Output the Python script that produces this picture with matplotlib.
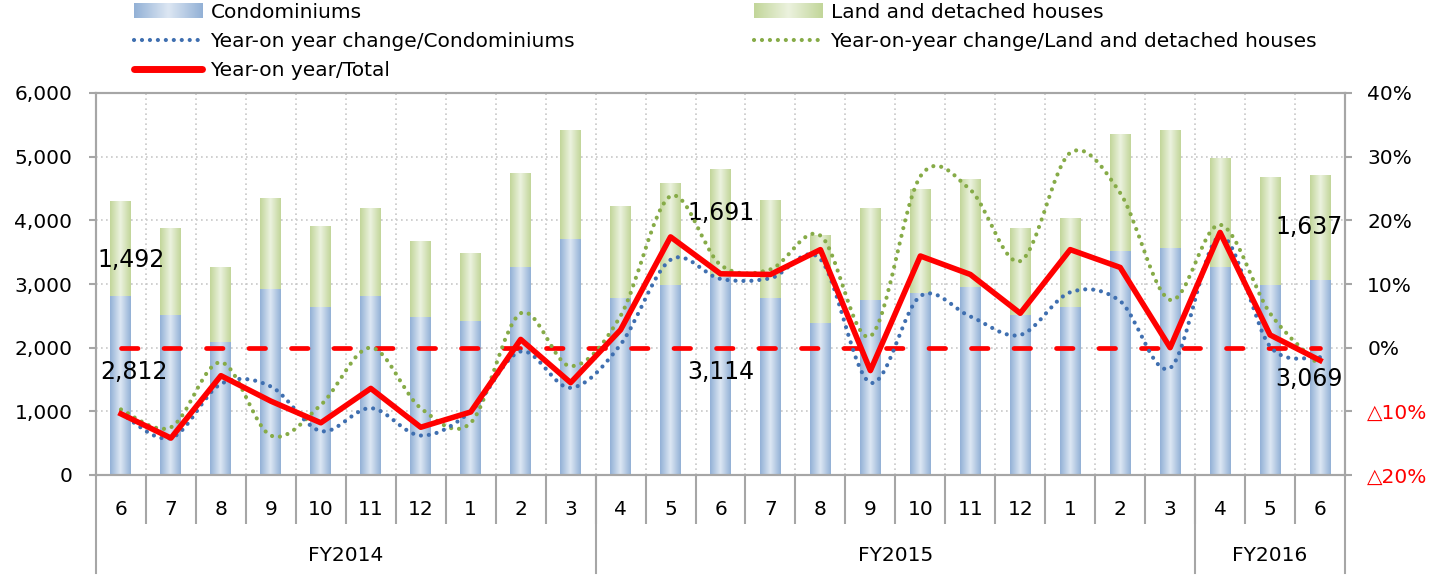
import numpy as np
import matplotlib
matplotlib.use("Agg")
import matplotlib.pyplot as plt
from matplotlib.colors import LinearSegmentedColormap
from matplotlib.lines import Line2D
from matplotlib.patches import Patch, PathPatch
from matplotlib.path import Path
from matplotlib.image import BboxImage
from matplotlib.legend_handler import HandlerBase
import matplotlib.transforms as mtransforms

# --- data ---
months = ["6", "7", "8", "9", "10", "11", "12", "1", "2", "3",
          "4", "5", "6", "7", "8", "9", "10", "11", "12", "1", "2", "3",
          "4", "5", "6"]
fiscal_years = ["FY2014", "FY2015", "FY2016"]
fy_counts = [10, 12, 3]

condo = [2812, 2513, 2089, 2921, 2639, 2811, 2482, 2419, 3267, 3707,
         2780, 2984, 3114, 2780, 2387, 2749, 2858, 2953, 2513, 2639, 3518, 3565,
         3267, 2984, 3069]
land = [1492, 1366, 1178, 1414, 1272, 1367, 1193, 1068, 1476, 1711,
        1445, 1602, 1691, 1539, 1382, 1444, 1618, 1696, 1366, 1397, 1822, 1838,
        1712, 1696, 1637]

# year-on-year change (%)
yoy_condo = [-10.3, -14.2, -5.7, -6.1, -13.1, -9.5, -13.8, -10.0, -0.6, -6.3,
             0.5, 13.8, 10.8, 10.9, 13.9, -5.5, 8.1, 4.9, 2.0, 8.7, 7.3, -3.2,
             17.5, 0.2, -1.5]
yoy_land = [-9.7, -12.5, -2.3, -13.8, -9.0, 0.0, -9.5, -11.8, 5.4, -2.9,
            5.0, 23.8, 13.0, 12.3, 17.6, 1.8, 26.9, 24.8, 13.6, 30.6, 24.3, 7.5,
            19.3, 5.4, -2.9]
yoy_total = [-10.4, -14.2, -4.4, -8.4, -11.8, -6.4, -12.5, -10.1, 1.3, -5.5,
             2.8, 17.4, 11.6, 11.5, 15.4, -3.6, 14.4, 11.5, 5.4, 15.4, 12.6, 0.0,
             18.1, 2.0, -2.0]

left_ticks = [0, 1000, 2000, 3000, 4000, 5000, 6000]
right_ticks = [-20, -10, 0, 10, 20, 30, 40]
right_labels = ["△20%", "△10%", "0%", "10%", "20%", "30%", "40%"]

# bars that carry value labels, with label offsets in points
label_idx = [0, 12, 24]
land_offsets = [(7, -8), (0, 7), (-8, 0)]
condo_offsets = [(9, 10), (0, 3), (-8, -1)]

BLUE_EDGE, BLUE_MID = "#93b1d6", "#dde7f3"
GREEN_EDGE, GREEN_MID = "#c2d69a", "#ecf2df"
BLUE_LINE, GREEN_LINE, RED = "#3f6fb0", "#86ab47", "#ff0000"
GRID = "#c8c8c8"
SPINE = "#a6a6a6"

plt.rcParams["font.family"] = ["DejaVu Sans"]
FS = 14.5

fig = plt.figure(figsize=(14.38, 5.76), dpi=100)
ax = fig.add_axes([96 / 1438, 1 - 475 / 576, (1345 - 96) / 1438, (475 - 93) / 576])

x = np.arange(len(months))
bars_c = ax.bar(x, condo, width=0.42, color=BLUE_MID, zorder=2)
bars_l = ax.bar(x, land, width=0.42, bottom=condo, color=GREEN_MID, zorder=2)

GRAD = np.linspace(0, 1, 64).reshape(1, -1)


def grad_cmap(edge, mid):
    return LinearSegmentedColormap.from_list("g", [edge, mid, edge])


def shade(bars, edge, mid):
    cmap = grad_cmap(edge, mid)
    for b in bars:
        x0, y0 = b.get_x(), b.get_y()
        ax.imshow(GRAD, cmap=cmap, aspect="auto", zorder=2.1,
                  extent=[x0, x0 + b.get_width(), y0, y0 + b.get_height()])


shade(bars_c, BLUE_EDGE, BLUE_MID)
shade(bars_l, GREEN_EDGE, GREEN_MID)

ax.set_xlim(-0.5, len(months) - 0.5)
ax.set_ylim(0, 6000)
ax.set_yticks(left_ticks)
ax.set_yticklabels([f"{v:,}" for v in left_ticks], fontsize=FS)
ax.tick_params(axis="y", length=5, width=1.5, color=SPINE, pad=12)

# month labels + separators
ax.set_xticks(x)
ax.set_xticklabels(months, fontsize=FS)
ax.tick_params(axis="x", which="major", length=0, pad=18)
ax.set_xticks(np.arange(1, len(months)) - 0.5, minor=True)
ax.tick_params(axis="x", which="minor", length=35, width=1.5, color=SPINE, direction="out")

ax.grid(axis="y", which="major", color=GRID, linestyle=(0, (1, 2)), linewidth=1.2, zorder=0)
ax.grid(axis="x", which="minor", color=GRID, linestyle=(0, (1, 2)), linewidth=1.2, zorder=0)
ax.set_axisbelow(True)

for s in ax.spines.values():
    s.set_color(SPINE)
    s.set_linewidth(1.5)

# fiscal year groups
trans = mtransforms.blended_transform_factory(ax.transData, ax.transAxes)
bounds = np.concatenate([[0], np.cumsum(fy_counts)]) - 0.5
for b in bounds:
    ax.add_line(Line2D([b, b], [0, -0.257], transform=trans, color=SPINE,
                       linewidth=1.5, clip_on=False))
for name, a, b in zip(fiscal_years, bounds[:-1], bounds[1:]):
    ax.text((a + b) / 2, -0.212, name, transform=trans, ha="center", va="center", fontsize=FS)

# value labels
for i, (dl, dc) in zip(label_idx, zip(land_offsets, condo_offsets)):
    ax.annotate(f"{land[i]:,}", xy=(i, condo[i] + land[i] / 2), xytext=dl,
                textcoords="offset points", ha="center", va="center", fontsize=17, zorder=6)
    ax.annotate(f"{condo[i]:,}", xy=(i, condo[i] / 2), xytext=dc,
                textcoords="offset points", ha="center", va="center", fontsize=17, zorder=6)

# right axis
ax2 = ax.twinx()
ax2.set_ylim(-20, 40)
ax2.set_yticks(right_ticks)
ax2.set_yticklabels(right_labels, fontsize=FS)
for t, v in zip(ax2.get_yticklabels(), right_ticks):
    t.set_color(RED if v < 0 else "black")
ax2.tick_params(axis="y", length=5, width=1.5, color=SPINE, pad=11)
for s in ax2.spines.values():
    s.set_color(SPINE)
    s.set_linewidth(1.5)


def smooth_path(xs, ys):
    pts = np.column_stack([xs, ys]).astype(float)
    verts = [pts[0]]
    codes = [Path.MOVETO]
    n = len(pts)
    for i in range(n - 1):
        p0 = pts[max(i - 1, 0)]
        p1, p2 = pts[i], pts[i + 1]
        p3 = pts[min(i + 2, n - 1)]
        verts += [p1 + (p2 - p0) / 6, p2 - (p3 - p1) / 6, p2]
        codes += [Path.CURVE4] * 3
    return Path(verts, codes)


DOTS = (0, (0.01, 1.9))
ax2.hlines(0, x[0], x[-1], colors=RED, linewidth=3.4,
           linestyles=[(0, (3.5, 5.5))], capstyle="round", zorder=3)
ax2.add_patch(PathPatch(smooth_path(x, yoy_land), fill=False, edgecolor=GREEN_LINE,
                        linestyle=DOTS, linewidth=3.0, capstyle="round", zorder=4))
ax2.add_patch(PathPatch(smooth_path(x, yoy_condo), fill=False, edgecolor=BLUE_LINE,
                        linestyle=DOTS, linewidth=3.0, capstyle="round", zorder=4))
ax2.plot(x, yoy_total, color=RED, linewidth=4, zorder=5)


# legend handle with the same horizontal gradient as the bars
class GradHandler(HandlerBase):
    def create_artists(self, legend, orig_handle, xdescent, ydescent,
                       width, height, fontsize, trans):
        bb = mtransforms.Bbox.from_bounds(-xdescent, -ydescent, width, height)
        im = BboxImage(mtransforms.TransformedBbox(bb, trans),
                       cmap=grad_cmap(*orig_handle.grad), interpolation="bilinear")
        im.set_data(GRAD)
        return [im]


h_condo = Patch(facecolor=BLUE_MID)
h_condo.grad = (BLUE_EDGE, BLUE_MID)
h_land = Patch(facecolor=GREEN_MID)
h_land.grad = (GREEN_EDGE, GREEN_MID)
h_bdot = Line2D([], [], color=BLUE_LINE, linewidth=3.0, linestyle=DOTS,
                dash_capstyle="round")
h_gdot = Line2D([], [], color=GREEN_LINE, linewidth=3.0, linestyle=DOTS,
                dash_capstyle="round")
h_red = Line2D([], [], color=RED, linewidth=5, solid_capstyle="round")

leg_kw = dict(loc="upper left", frameon=False, borderpad=0, borderaxespad=0,
              handlelength=3.4, handletextpad=0.4, labelspacing=0.5, fontsize=FS,
              handler_map={Patch: GradHandler()})
fig.legend([h_condo, h_bdot, h_red],
           ["Condominiums", "Year-on year change/Condominiums", "Year-on year/Total"],
           bbox_to_anchor=(134 / 1438, 1 - 3 / 576), **leg_kw)
fig.legend([h_land, h_gdot],
           ["Land and detached houses", "Year-on-year change/Land and detached houses"],
           bbox_to_anchor=(754 / 1438, 1 - 3 / 576), **leg_kw)

fig.savefig("out.png", dpi=100)
